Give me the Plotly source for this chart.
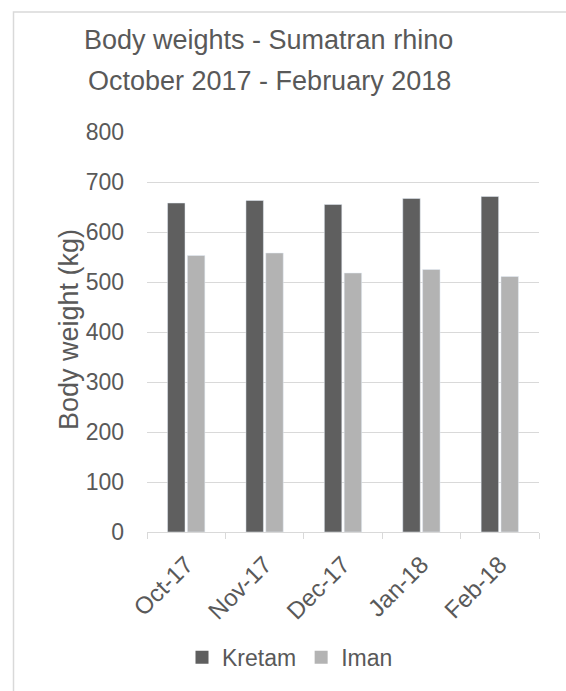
import plotly.graph_objects as go

months = ["Oct-17", "Nov-17", "Dec-17", "Jan-18", "Feb-18"]
kretam = [658, 663, 655, 667, 671]
iman = [553, 558, 518, 525, 511]
y_ticks = [0, 100, 200, 300, 400, 500, 600, 700, 800]

W, H = 566, 691
L, R, T, B = 147, 27, 132, 157
pw, ph = W - L - R, H - T - B

def px_x(x):
    return (x - L) / pw

def px_y(y):
    return (H - B - y) / ph

txt = "#595959"
grid = "#d9d9d9"
font = "Liberation Sans, Arial, sans-serif"
c_k, c_i = "#5f5f5f", "#b3b3b3"

fig = go.Figure()
fig.add_trace(go.Bar(x=months, y=kretam, name="Kretam", marker=dict(color=c_k), showlegend=False))
fig.add_trace(go.Bar(x=months, y=iman, name="Iman", marker=dict(color=c_i), showlegend=False))
fig.add_trace(go.Scatter(x=[None], y=[None], mode="markers", name="Kretam",
                         marker=dict(symbol="square", size=13, color=c_k)))
fig.add_trace(go.Scatter(x=[None], y=[None], mode="markers", name="Iman",
                         marker=dict(symbol="square", size=13, color=c_i)))

fig.update_layout(
    width=W, height=H,
    margin=dict(l=L, r=R, t=T, b=B),
    paper_bgcolor="white", plot_bgcolor="white",
    font=dict(family=font, color=txt, size=23),
    barmode="group", bargap=0.494, bargroupgap=0.12,
    showlegend=True,
    legend=dict(orientation="h", x=px_x(290), y=px_y(660), xanchor="center", yanchor="middle",
                font=dict(size=23, color=txt), bgcolor="rgba(0,0,0,0)", itemwidth=30,
                traceorder="normal"),
)
fig.update_xaxes(
    showgrid=False, showline=True, linecolor=grid, linewidth=1,
    ticks="outside", tickson="boundaries", ticklen=6, tickcolor=grid,
    tickangle=-45, tickfont=dict(size=24, color=txt), ticklabelstandoff=8,
)
fig.update_yaxes(
    range=[0, 800], tickvals=y_ticks, showgrid=True, gridcolor=grid, gridwidth=1,
    zeroline=False, showline=False, ticks="", ticklabelstandoff=22,
    tickfont=dict(size=23, color=txt),
)

fig.add_annotation(text="Body weights - Sumatran rhino", xref="paper", yref="paper",
                   x=px_x(268), y=px_y(40), xanchor="center", yanchor="middle",
                   showarrow=False, font=dict(size=27, color=txt))
fig.add_annotation(text="October 2017 - February 2018", xref="paper", yref="paper",
                   x=px_x(269), y=px_y(81), xanchor="center", yanchor="middle",
                   showarrow=False, font=dict(size=27, color=txt))
fig.add_annotation(text="Body weight (kg)", xref="paper", yref="paper",
                   x=px_x(69), y=px_y(331), xanchor="center", yanchor="middle",
                   textangle=-90, showarrow=False, font=dict(size=27, color=txt))

fig.add_shape(type="rect", xref="paper", yref="paper",
              x0=px_x(13.5), x1=px_x(600), y0=px_y(720), y1=px_y(11.5),
              line=dict(color=grid, width=1.5), fillcolor="rgba(0,0,0,0)", layer="below")

fig.write_html("out.html")
